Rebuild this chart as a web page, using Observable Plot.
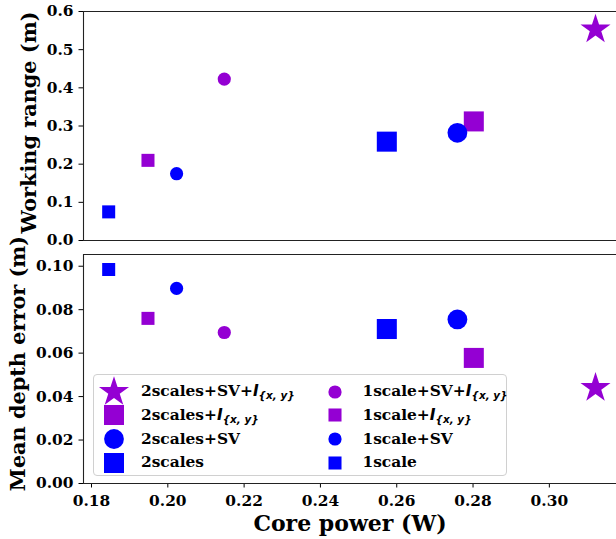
<!DOCTYPE html>
<html><head><meta charset="utf-8">
<script src="https://cdn.jsdelivr.net/npm/d3@7"></script>
<script src="https://cdn.jsdelivr.net/npm/@observablehq/plot@0.6"></script>
<style>
html,body{margin:0;padding:0;background:#fff;overflow:hidden}
#chart{position:relative;width:616px;height:539px;font-family:"DejaVu Serif",serif;font-weight:bold;color:#000}
#chart > .panel{position:absolute;left:0}
#overlay{position:absolute;left:0;top:0;pointer-events:none}
#legend{position:absolute;left:93px;top:374px;width:412px;height:100px;border:1px solid #d0d0d0;border-radius:4px;background:rgba(255,255,255,0.8)}
#legend .item{position:absolute;font-size:15.4px;line-height:1;white-space:nowrap;transform:translateY(-50%)}
#legend svg{position:absolute;overflow:visible}
.mi{font-family:"DejaVu Sans",sans-serif;font-style:italic;font-weight:bold}
.ms{font-family:"DejaVu Sans",sans-serif;font-style:italic;font-weight:bold;font-size:0.68em;vertical-align:-0.3em}
</style></head>
<body><div id="chart"></div>
<script>
// ---- data ----
const methods = ["1scale","1scale+I","1scale+SV","1scale+SV+I","2scales","2scales+I","2scales+SV","2scales+SV+I"];
const corePower = [0.1845,0.1948,0.2023,0.2148,0.2574,0.2802,0.2759,0.3121];
const workingRange = [0.075,0.210,0.175,0.423,0.259,0.312,0.282,0.553];
const depthError = [0.0985,0.0760,0.0898,0.0695,0.0711,0.0578,0.0755,0.0440];
const xTicks = [0.18,0.20,0.22,0.24,0.26,0.28,0.30];
const rangeTicks = [0,0.1,0.2,0.3,0.4,0.5,0.6];
const errorTicks = [0,0.02,0.04,0.06,0.08,0.10];
const legendCol1 = ["2scales+SV+I","2scales+I","2scales+SV","2scales"];
const legendCol2 = ["1scale+SV+I","1scale+I","1scale+SV","1scale"];

// ---- styles ----
const PURPLE = "#9400D3", BLUE = "#0000FF";
function styleOf(m) {
  const hasI = m.endsWith("+I"), sv = m.includes("+SV"), two = m.startsWith("2");
  const symbol = (two && sv && hasI) ? "star" : sv ? "circle" : "square";
  const rTable = {star: 9.44, circle: two ? 9.9 : 6.6, square: two ? 11.3 : 7.35};
  return {fill: hasI ? PURPLE : BLUE, symbol, r: rTable[symbol]};
}
const data = methods.map((m, i) => ({method: m, power: corePower[i], range: workingRange[i], error: depthError[i], ...styleOf(m)}));

const xDomain = [0.1779, 0.3176];
const common = {
  width: 616, marginLeft: 83, marginRight: 0,
  style: {fontFamily: '"DejaVu Serif", serif', fontSize: "15.4px", fontWeight: "bold", color: "#000", background: "transparent", overflow: "visible"},
  color: {type: "identity"}, symbol: {type: "identity"}, r: {type: "identity"}
};
const spine = {stroke: "#222", strokeWidth: 1.1};
const dotOpts = (yKey) => ({x: "power", y: yKey, fill: "fill", symbol: "symbol", r: "r"});

const topPlot = Plot.plot({
  ...common, height: 250, marginTop: 11, marginBottom: 10,
  x: {domain: xDomain, axis: null},
  y: {domain: [0, 0.6], ticks: rangeTicks, tickFormat: d3.format(".1f"), tickSize: 4.5, tickPadding: 5.5, label: null},
  marks: [
    Plot.ruleY([0, 0.6], spine),
    Plot.ruleX([xDomain[0]], spine),
    Plot.dot(data, dotOpts("range"))
  ]
});
const botPlot = Plot.plot({
  ...common, height: 289, marginTop: 4, marginBottom: 56,
  x: {domain: xDomain, ticks: xTicks, tickFormat: d3.format(".2f"), tickSize: 4.5, tickPadding: 7, label: null},
  y: {domain: [0, 0.1054], ticks: errorTicks, tickFormat: d3.format(".2f"), tickSize: 4.5, tickPadding: 5.5, label: null},
  marks: [
    Plot.ruleY([0, 0.1054], spine),
    Plot.ruleX([xDomain[0]], spine),
    Plot.dot(data, dotOpts("error"))
  ]
});

const chart = document.getElementById("chart");
topPlot.classList.add("panel"); topPlot.style.top = "0px";
botPlot.classList.add("panel"); botPlot.style.top = "250px";
chart.appendChild(topPlot);
chart.appendChild(botPlot);

// ---- axis titles ----
const ov = d3.select(chart).append("svg").attr("id", "overlay").attr("width", 616).attr("height", 539)
  .style("font-family", '"DejaVu Serif", serif').style("font-weight", "bold");
ov.append("text").attr("transform", "translate(28,122.5) rotate(-90)").attr("text-anchor", "middle")
  .attr("dominant-baseline", "central").style("font-size", "20.8px").text("Working range (m)");
ov.append("text").attr("transform", "translate(17.5,363.5) rotate(-90)").attr("text-anchor", "middle")
  .attr("dominant-baseline", "central").style("font-size", "20.8px").text("Mean depth error (m)");
ov.append("text").attr("x", 350).attr("y", 531).attr("text-anchor", "middle")
  .style("font-size", "22px").text("Core power (W)");

// ---- legend ----
const legend = d3.select(chart).append("div").attr("id", "legend");
function labelHTML(m) {
  if (m.endsWith("+I")) return m.slice(0, -1) + '<span class="mi">I</span><span class="ms">{x, y}</span>';
  return m;
}
const rowY = i => 16.7 + i * 23.7;
[[legendCol1, 19.7, 47], [legendCol2, 241, 268.5]].forEach(([col, mx, tx]) => {
  col.forEach((m, i) => {
    const s = styleOf(m);
    const sym = {star: d3.symbolStar, circle: d3.symbolCircle, square: d3.symbolSquare}[s.symbol];
    const svg = legend.append("svg").attr("width", 1).attr("height", 1)
      .style("left", mx + "px").style("top", rowY(i) + "px");
    svg.append("path").attr("d", d3.symbol(sym, Math.PI * s.r * s.r)()).attr("fill", s.fill);
    legend.append("div").attr("class", "item").style("left", tx + "px").style("top", (rowY(i) + 0.5) + "px").html(labelHTML(m));
  });
});
</script>
</body></html>
